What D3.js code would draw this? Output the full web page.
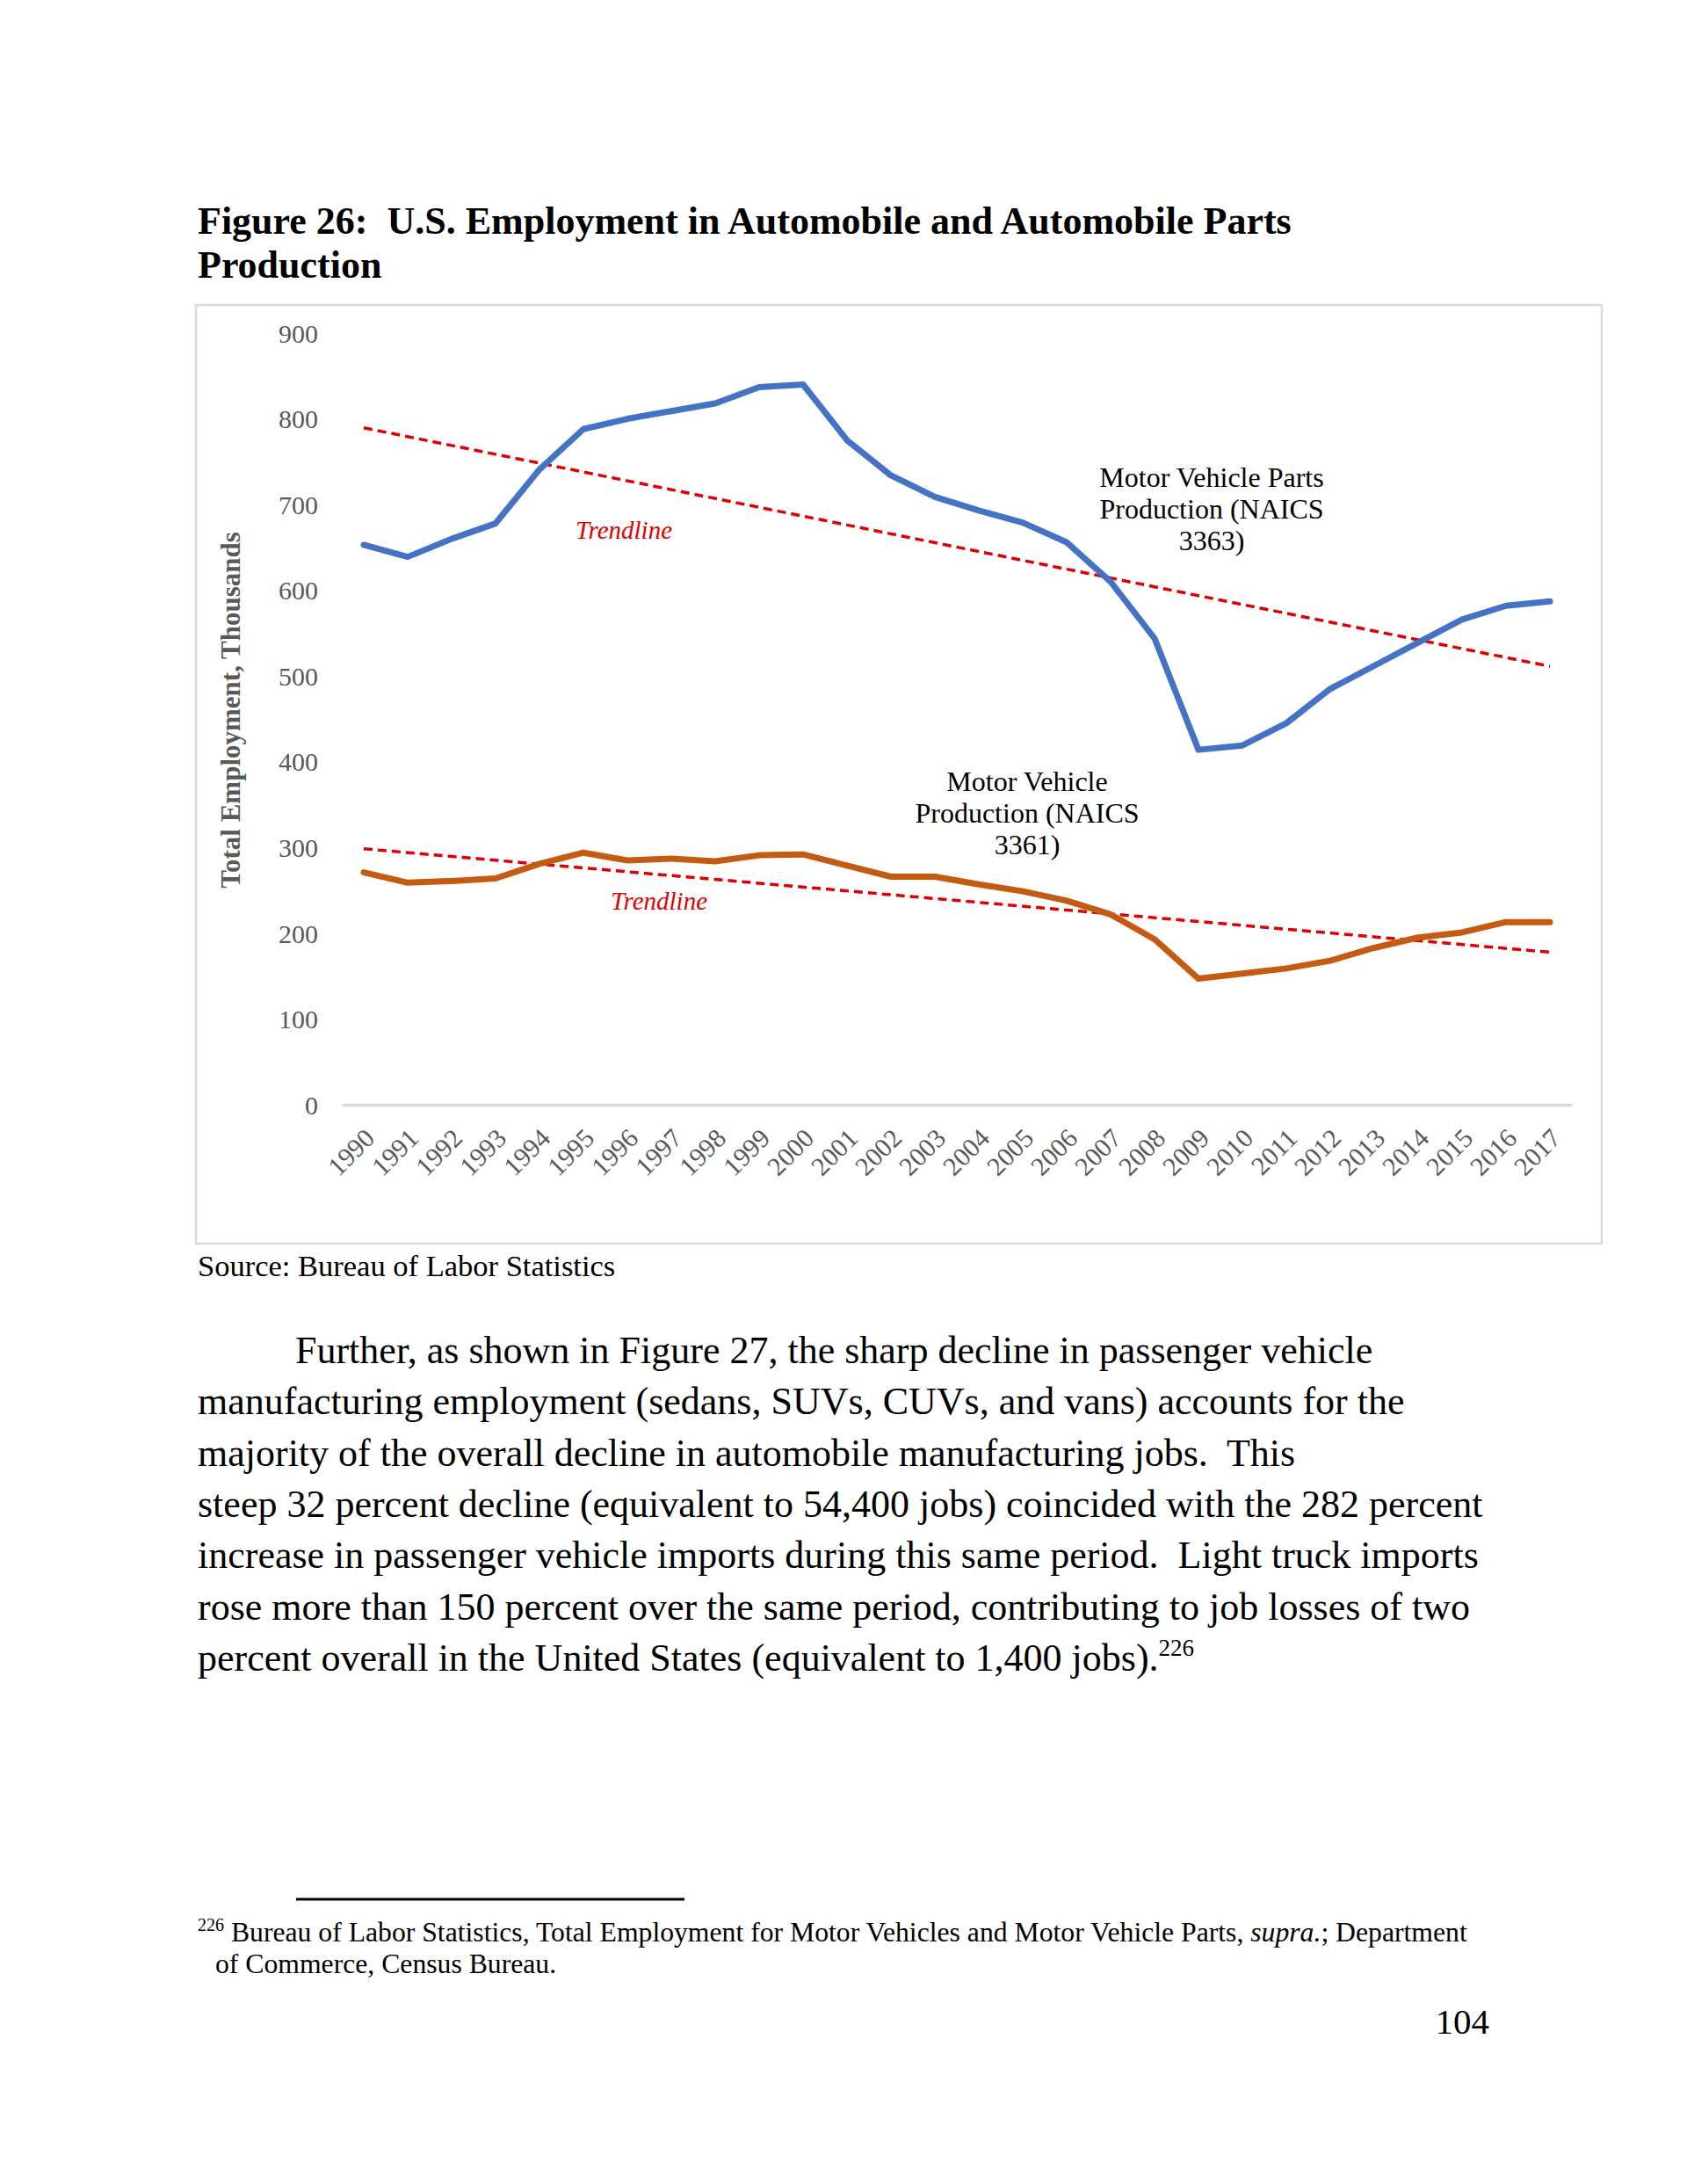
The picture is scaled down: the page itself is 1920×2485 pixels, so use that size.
<!DOCTYPE html>
<html lang="en">
<head>
<meta charset="UTF-8">
<title>Figure 26</title>
<script src="https://cdn.jsdelivr.net/npm/d3@7"></script>
<style>
  body { margin: 0; background: #fff; }
  svg { display: block; }
  text { font-family: "Liberation Serif", "Times New Roman", serif; white-space: pre; }
  .axis text { fill: #595959; font-size: 30px; }
</style>
</head>
<body>
<script>
// data (thousands of jobs)
const years = [1990,1991,1992,1993,1994,1995,1996,1997,1998,1999,2000,2001,2002,2003,
               2004,2005,2006,2007,2008,2009,2010,2011,2012,2013,2014,2015,2016,2017];
const partsEmployment = [653,639,660,678,741,788,800,809,818,837,840,775,734,709,
                         693,679,656,610,544,414,419,445,485,512,539,566,582,587];
const vehicleEmployment = [271,259,261,264,281,294,285,287,284,291,292,279,266,266,
                           257,249,238,222,193,147,153,159,168,183,195,201,213,213];
const yTicks = [0,100,200,300,400,500,600,700,800,900];

const titleLines = ["Figure 26:  U.S. Employment in Automobile and Automobile Parts", "Production"];
const partsLabel = ["Motor Vehicle Parts", "Production (NAICS", "3363)"];
const vehicleLabel = ["Motor Vehicle", "Production (NAICS", "3361)"];
const paragraph = [
  "Further, as shown in Figure 27, the sharp decline in passenger vehicle",
  "manufacturing employment (sedans, SUVs, CUVs, and vans) accounts for the",
  "majority of the overall decline in automobile manufacturing jobs.  This",
  "steep 32 percent decline (equivalent to 54,400 jobs) coincided with the 282 percent",
  "increase in passenger vehicle imports during this same period.  Light truck imports",
  "rose more than 150 percent over the same period, contributing to job losses of two",
  "percent overall in the United States (equivalent to 1,400 jobs)."
];

const W = 1920, H = 2485;
const svg = d3.select("body").append("svg").attr("width", W).attr("height", H);
svg.append("rect").attr("width", W).attr("height", H).attr("fill", "#fff");

// title
svg.append("g").selectAll("text")
  .data(titleLines).enter().append("text")
  .attr("x", 225)
  .attr("y", (d, i) => 266 + i * 50)
  .attr("font-size", 44).attr("font-weight", "bold").attr("fill", "#000")
  .text(d => d);

// chart frame
svg.append("rect")
  .attr("x", 223).attr("y", 347).attr("width", 1600).attr("height", 1068)
  .attr("fill", "none").attr("stroke", "#d9d9d9").attr("stroke-width", 2.5);

const xScale = d3.scaleBand().domain(years).range([389, 1789]);
const xPos = d => xScale(d) + xScale.bandwidth() / 2;
const yScale = d3.scaleLinear().domain([0, 900]).range([1257, 379]);

// y axis (labels only)
svg.append("g")
  .attr("class", "axis")
  .attr("transform", "translate(370,0)")
  .call(d3.axisLeft(yScale).tickValues(yTicks).tickSize(0).tickPadding(8))
  .call(g => g.select(".domain").remove())
  .selectAll("text").attr("dy", "0.34em");

// x axis
const xAxisG = svg.append("g")
  .attr("class", "axis")
  .attr("transform", "translate(0,1257)")
  .call(d3.axisBottom(xScale).tickSize(0).tickPadding(0));
xAxisG.select(".domain").attr("stroke", "#d9d9d9").attr("stroke-width", 3.5);
xAxisG.selectAll("text")
  .attr("font-size", 32)
  .attr("text-anchor", "end")
  .attr("dy", 0)
  .attr("transform", "translate(14,40) rotate(-45)");

svg.append("text")
  .attr("transform", "translate(273,808) rotate(-90)")
  .attr("text-anchor", "middle")
  .attr("font-size", 31).attr("font-weight", "bold").attr("fill", "#595959")
  .text("Total Employment, Thousands");

// least squares trendline, as the spreadsheet draws it
function trend(values) {
  const n = values.length;
  const mx = (n - 1) / 2, my = d3.mean(values);
  let sxy = 0, sxx = 0;
  values.forEach((v, i) => { sxy += (i - mx) * (v - my); sxx += (i - mx) * (i - mx); });
  const b = sxy / sxx;
  return [[years[0], my - b * mx], [years[n - 1], my + b * mx]];
}

const line = d3.line().x(d => xPos(d[0])).y(d => yScale(d[1]));

const series = [
  { values: partsEmployment, color: "#4472c4" },
  { values: vehicleEmployment, color: "#c55a11" }
];

series.forEach(s => {
  svg.append("path")
    .datum(trend(s.values))
    .attr("d", line)
    .attr("fill", "none").attr("stroke", "#e00000")
    .attr("stroke-width", 3.5).attr("stroke-dasharray", "10,6");
});

series.forEach(s => {
  svg.append("path")
    .datum(years.map((y, i) => [y, s.values[i]]))
    .attr("d", line)
    .attr("fill", "none").attr("stroke", s.color)
    .attr("stroke-width", 7).attr("stroke-linejoin", "round").attr("stroke-linecap", "round");
});

// series labels
function multiLabel(lines, cx, y0) {
  svg.append("g").selectAll("text")
    .data(lines).enter().append("text")
    .attr("x", cx).attr("y", (d, i) => y0 + i * 36)
    .attr("text-anchor", "middle").attr("font-size", 32).attr("fill", "#000")
    .text(d => d);
}
multiLabel(partsLabel, 1379, 554);
multiLabel(vehicleLabel, 1169, 900);

[[710, 613], [750, 1035]].forEach(p => {
  svg.append("text")
    .attr("x", p[0]).attr("y", p[1])
    .attr("text-anchor", "middle")
    .attr("font-size", 29).attr("font-style", "italic").attr("fill", "#e00000")
    .text("Trendline");
});

// source
svg.append("text")
  .attr("x", 225).attr("y", 1452)
  .attr("font-size", 34.5).attr("fill", "#000")
  .text("Source: Bureau of Labor Statistics");

// body paragraph
const para = svg.append("g").attr("font-size", 44).attr("fill", "#000");
paragraph.forEach((t, i) => {
  const tx = para.append("text")
    .attr("x", i === 0 ? 336 : 225)
    .attr("y", 1551 + i * 58.3)
    .text(t);
  if (i === paragraph.length - 1) {
    tx.append("tspan").attr("font-size", 27).attr("dy", -17).text("226");
  }
});

// footnote
svg.append("line")
  .attr("x1", 337).attr("x2", 779).attr("y1", 2161).attr("y2", 2161)
  .attr("stroke", "#000").attr("stroke-width", 3);

const fn1 = svg.append("text").attr("x", 225).attr("y", 2209).attr("font-size", 31.7).attr("fill", "#000");
fn1.append("tspan").attr("font-size", 20).attr("dy", -12).text("226");
fn1.append("tspan").attr("dy", 12).text(" Bureau of Labor Statistics, Total Employment for Motor Vehicles and Motor Vehicle Parts, ");
fn1.append("tspan").attr("font-style", "italic").text("supra.");
fn1.append("tspan").text("; Department");

svg.append("text").attr("x", 245).attr("y", 2245).attr("font-size", 31.7).attr("fill", "#000")
  .text("of Commerce, Census Bureau.");

svg.append("text").attr("x", 1695).attr("y", 2314)
  .attr("text-anchor", "end").attr("font-size", 41).attr("fill", "#000")
  .text("104");
</script>
</body>
</html>
